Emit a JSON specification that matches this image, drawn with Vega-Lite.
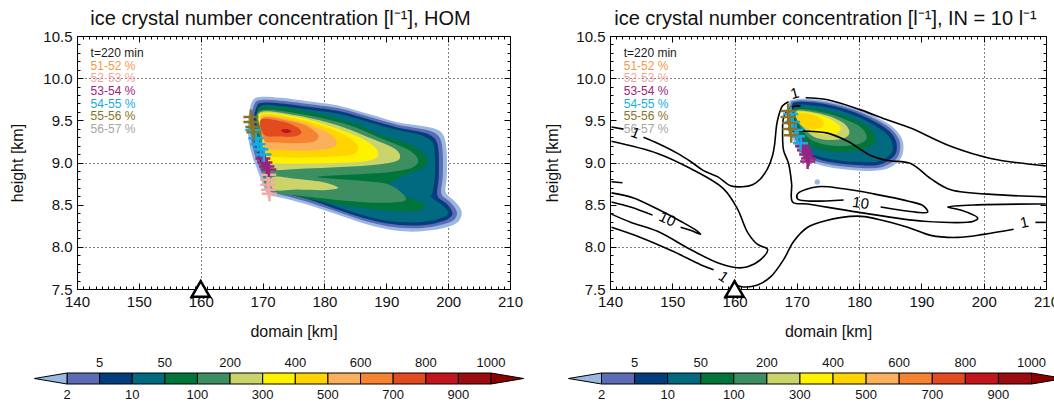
{
"$schema":"https://vega.github.io/schema/vega-lite/v6.json",
"background":"white",
"padding":{"left":9,"top":8,"right":0,"bottom":0},
"config":{
 "font":"Liberation Sans",
 "view":{"stroke":null},
 "axis":{"domain":false,"grid":false,"tickColor":"#000","tickWidth":1,"labelFontSize":15,"titleFontSize":16,"titleFontWeight":"normal","labelColor":"#111","titleColor":"#111","labelFlush":false,"labelOverlap":false,"zindex":1,"labelFont":"Liberation Sans","titleFont":"Liberation Sans"},
 "title":{"fontSize":20,"fontWeight":"normal","color":"#111","font":"Liberation Sans","frame":"group"},
 "text":{"font":"Liberation Sans"}
},
"datasets":{
 "lp":[
{"p":"L00","c":0,"i":0,"x":168.22,"y":9.708},{"p":"L00","c":0,"i":1,"x":169.46,"y":9.776},{"p":"L00","c":0,"i":2,"x":172.96,"y":9.768},{"p":"L00","c":0,"i":3,"x":178.34,"y":9.716},{"p":"L00","c":0,"i":4,"x":182.65,"y":9.668},{"p":"L00","c":0,"i":5,"x":187.5,"y":9.568},{"p":"L00","c":0,"i":6,"x":191.81,"y":9.476},{"p":"L00","c":0,"i":7,"x":195.57,"y":9.436},{"p":"L00","c":0,"i":8,"x":198.0,"y":9.396},{"p":"L00","c":0,"i":9,"x":199.34,"y":9.308},{"p":"L00","c":0,"i":10,"x":199.77,"y":9.108},{"p":"L00","c":0,"i":11,"x":199.77,"y":8.828},{"p":"L00","c":0,"i":12,"x":199.61,"y":8.648},{"p":"L00","c":0,"i":13,"x":200.96,"y":8.548},{"p":"L00","c":0,"i":14,"x":202.04,"y":8.448},{"p":"L00","c":0,"i":15,"x":202.14,"y":8.368},{"p":"L00","c":0,"i":16,"x":201.5,"y":8.288},{"p":"L00","c":0,"i":17,"x":199.88,"y":8.236},{"p":"L00","c":0,"i":18,"x":197.19,"y":8.196},{"p":"L00","c":0,"i":19,"x":193.96,"y":8.18},{"p":"L00","c":0,"i":20,"x":190.19,"y":8.208},{"p":"L00","c":0,"i":21,"x":186.42,"y":8.276},{"p":"L00","c":0,"i":22,"x":182.65,"y":8.368},{"p":"L00","c":0,"i":23,"x":178.34,"y":8.476},{"p":"L00","c":0,"i":24,"x":174.57,"y":8.556},{"p":"L00","c":0,"i":25,"x":171.88,"y":8.6},{"p":"L00","c":0,"i":26,"x":170.7,"y":8.636},{"p":"L00","c":0,"i":27,"x":170.0,"y":8.748},{"p":"L00","c":0,"i":28,"x":169.19,"y":8.908},{"p":"L00","c":0,"i":29,"x":168.22,"y":9.108},{"p":"L00","c":0,"i":30,"x":167.68,"y":9.308},{"p":"L00","c":0,"i":31,"x":167.68,"y":9.508},
{"p":"L01","c":1,"i":0,"x":168.65,"y":9.688},{"p":"L01","c":1,"i":1,"x":169.73,"y":9.74},{"p":"L01","c":1,"i":2,"x":172.96,"y":9.732},{"p":"L01","c":1,"i":3,"x":178.34,"y":9.684},{"p":"L01","c":1,"i":4,"x":182.65,"y":9.636},{"p":"L01","c":1,"i":5,"x":187.5,"y":9.536},{"p":"L01","c":1,"i":6,"x":191.81,"y":9.448},{"p":"L01","c":1,"i":7,"x":195.31,"y":9.404},{"p":"L01","c":1,"i":8,"x":197.46,"y":9.364},{"p":"L01","c":1,"i":9,"x":198.7,"y":9.284},{"p":"L01","c":1,"i":10,"x":199.13,"y":9.108},{"p":"L01","c":1,"i":11,"x":199.13,"y":8.828},{"p":"L01","c":1,"i":12,"x":198.91,"y":8.628},{"p":"L01","c":1,"i":13,"x":200.31,"y":8.532},{"p":"L01","c":1,"i":14,"x":201.28,"y":8.44},{"p":"L01","c":1,"i":15,"x":201.39,"y":8.372},{"p":"L01","c":1,"i":16,"x":200.85,"y":8.316},{"p":"L01","c":1,"i":17,"x":199.61,"y":8.276},{"p":"L01","c":1,"i":18,"x":197.19,"y":8.236},{"p":"L01","c":1,"i":19,"x":193.96,"y":8.22},{"p":"L01","c":1,"i":20,"x":190.19,"y":8.244},{"p":"L01","c":1,"i":21,"x":186.42,"y":8.308},{"p":"L01","c":1,"i":22,"x":182.65,"y":8.4},{"p":"L01","c":1,"i":23,"x":178.34,"y":8.508},{"p":"L01","c":1,"i":24,"x":174.57,"y":8.588},{"p":"L01","c":1,"i":25,"x":171.99,"y":8.636},{"p":"L01","c":1,"i":26,"x":171.07,"y":8.668},{"p":"L01","c":1,"i":27,"x":170.43,"y":8.768},{"p":"L01","c":1,"i":28,"x":169.62,"y":8.916},{"p":"L01","c":1,"i":29,"x":168.65,"y":9.116},{"p":"L01","c":1,"i":30,"x":168.11,"y":9.308},{"p":"L01","c":1,"i":31,"x":168.11,"y":9.508},
{"p":"L02","c":2,"i":0,"x":169.08,"y":9.668},{"p":"L02","c":2,"i":1,"x":170.0,"y":9.708},{"p":"L02","c":2,"i":2,"x":172.96,"y":9.7},{"p":"L02","c":2,"i":3,"x":178.34,"y":9.652},{"p":"L02","c":2,"i":4,"x":182.65,"y":9.604},{"p":"L02","c":2,"i":5,"x":187.5,"y":9.504},{"p":"L02","c":2,"i":6,"x":191.81,"y":9.416},{"p":"L02","c":2,"i":7,"x":195.04,"y":9.372},{"p":"L02","c":2,"i":8,"x":196.92,"y":9.332},{"p":"L02","c":2,"i":9,"x":198.05,"y":9.26},{"p":"L02","c":2,"i":10,"x":198.48,"y":9.108},{"p":"L02","c":2,"i":11,"x":198.48,"y":8.828},{"p":"L02","c":2,"i":12,"x":198.27,"y":8.608},{"p":"L02","c":2,"i":13,"x":199.67,"y":8.516},{"p":"L02","c":2,"i":14,"x":200.53,"y":8.436},{"p":"L02","c":2,"i":15,"x":200.64,"y":8.376},{"p":"L02","c":2,"i":16,"x":200.15,"y":8.34},{"p":"L02","c":2,"i":17,"x":199.34,"y":8.308},{"p":"L02","c":2,"i":18,"x":197.19,"y":8.268},{"p":"L02","c":2,"i":19,"x":193.96,"y":8.252},{"p":"L02","c":2,"i":20,"x":190.19,"y":8.276},{"p":"L02","c":2,"i":21,"x":186.42,"y":8.34},{"p":"L02","c":2,"i":22,"x":182.65,"y":8.428},{"p":"L02","c":2,"i":23,"x":178.34,"y":8.54},{"p":"L02","c":2,"i":24,"x":174.57,"y":8.62},{"p":"L02","c":2,"i":25,"x":172.15,"y":8.664},{"p":"L02","c":2,"i":26,"x":171.34,"y":8.696},{"p":"L02","c":2,"i":27,"x":170.8,"y":8.788},{"p":"L02","c":2,"i":28,"x":170.05,"y":8.928},{"p":"L02","c":2,"i":29,"x":169.08,"y":9.128},{"p":"L02","c":2,"i":30,"x":168.54,"y":9.308},{"p":"L02","c":2,"i":31,"x":168.54,"y":9.508},
{"p":"L03","c":3,"i":0,"x":169.51,"y":9.648},{"p":"L03","c":3,"i":1,"x":170.27,"y":9.68},{"p":"L03","c":3,"i":2,"x":172.96,"y":9.668},{"p":"L03","c":3,"i":3,"x":178.34,"y":9.62},{"p":"L03","c":3,"i":4,"x":182.65,"y":9.572},{"p":"L03","c":3,"i":5,"x":187.5,"y":9.472},{"p":"L03","c":3,"i":6,"x":191.81,"y":9.384},{"p":"L03","c":3,"i":7,"x":194.77,"y":9.34},{"p":"L03","c":3,"i":8,"x":196.38,"y":9.3},{"p":"L03","c":3,"i":9,"x":197.46,"y":9.236},{"p":"L03","c":3,"i":10,"x":197.84,"y":9.108},{"p":"L03","c":3,"i":11,"x":197.84,"y":8.828},{"p":"L03","c":3,"i":12,"x":197.46,"y":8.636},{"p":"L03","c":3,"i":13,"x":197.08,"y":8.596},{"p":"L03","c":3,"i":14,"x":198.81,"y":8.508},{"p":"L03","c":3,"i":15,"x":199.88,"y":8.428},{"p":"L03","c":3,"i":16,"x":199.88,"y":8.38},{"p":"L03","c":3,"i":17,"x":199.08,"y":8.348},{"p":"L03","c":3,"i":18,"x":197.19,"y":8.308},{"p":"L03","c":3,"i":19,"x":193.96,"y":8.288},{"p":"L03","c":3,"i":20,"x":190.19,"y":8.308},{"p":"L03","c":3,"i":21,"x":186.42,"y":8.372},{"p":"L03","c":3,"i":22,"x":182.65,"y":8.46},{"p":"L03","c":3,"i":23,"x":178.34,"y":8.572},{"p":"L03","c":3,"i":24,"x":174.57,"y":8.648},{"p":"L03","c":3,"i":25,"x":172.31,"y":8.692},{"p":"L03","c":3,"i":26,"x":171.61,"y":8.724},{"p":"L03","c":3,"i":27,"x":171.13,"y":8.808},{"p":"L03","c":3,"i":28,"x":170.48,"y":8.94},{"p":"L03","c":3,"i":29,"x":169.51,"y":9.14},{"p":"L03","c":3,"i":30,"x":168.97,"y":9.308},{"p":"L03","c":3,"i":31,"x":168.97,"y":9.508},
{"p":"L04","c":4,"i":0,"x":169.19,"y":9.628},{"p":"L04","c":4,"i":1,"x":170.27,"y":9.66},{"p":"L04","c":4,"i":2,"x":175.65,"y":9.628},{"p":"L04","c":4,"i":3,"x":183.73,"y":9.488},{"p":"L04","c":4,"i":4,"x":189.11,"y":9.328},{"p":"L04","c":4,"i":5,"x":193.96,"y":9.208},{"p":"L04","c":4,"i":6,"x":196.01,"y":9.1},{"p":"L04","c":4,"i":7,"x":196.76,"y":9.008},{"p":"L04","c":4,"i":8,"x":195.84,"y":8.928},{"p":"L04","c":4,"i":9,"x":193.96,"y":8.876},{"p":"L04","c":4,"i":10,"x":191.81,"y":8.808},{"p":"L04","c":4,"i":11,"x":190.19,"y":8.708},{"p":"L04","c":4,"i":12,"x":192.88,"y":8.608},{"p":"L04","c":4,"i":13,"x":195.57,"y":8.528},{"p":"L04","c":4,"i":14,"x":196.22,"y":8.468},{"p":"L04","c":4,"i":15,"x":193.96,"y":8.42},{"p":"L04","c":4,"i":16,"x":189.11,"y":8.436},{"p":"L04","c":4,"i":17,"x":183.73,"y":8.488},{"p":"L04","c":4,"i":18,"x":178.34,"y":8.556},{"p":"L04","c":4,"i":19,"x":174.03,"y":8.62},{"p":"L04","c":4,"i":20,"x":171.88,"y":8.66},{"p":"L04","c":4,"i":21,"x":171.07,"y":8.748},{"p":"L04","c":4,"i":22,"x":170.27,"y":8.948},{"p":"L04","c":4,"i":23,"x":169.46,"y":9.188},{"p":"L04","c":4,"i":24,"x":169.19,"y":9.428},
{"p":"L05","c":5,"i":0,"x":169.46,"y":9.608},{"p":"L05","c":5,"i":1,"x":175.65,"y":9.58},{"p":"L05","c":5,"i":2,"x":183.73,"y":9.448},{"p":"L05","c":5,"i":3,"x":189.11,"y":9.288},{"p":"L05","c":5,"i":4,"x":193.42,"y":9.156},{"p":"L05","c":5,"i":5,"x":195.14,"y":9.036},{"p":"L05","c":5,"i":6,"x":194.23,"y":8.94},{"p":"L05","c":5,"i":7,"x":190.73,"y":8.888},{"p":"L05","c":5,"i":8,"x":185.34,"y":8.86},{"p":"L05","c":5,"i":9,"x":178.88,"y":8.828},{"p":"L05","c":5,"i":10,"x":186.42,"y":8.78},{"p":"L05","c":5,"i":11,"x":190.73,"y":8.728},{"p":"L05","c":5,"i":12,"x":193.15,"y":8.556},{"p":"L05","c":5,"i":13,"x":188.57,"y":8.524},{"p":"L05","c":5,"i":14,"x":182.11,"y":8.556},{"p":"L05","c":5,"i":15,"x":175.65,"y":8.608},{"p":"L05","c":5,"i":16,"x":172.42,"y":8.636},{"p":"L05","c":5,"i":17,"x":170.53,"y":8.708},{"p":"L05","c":5,"i":18,"x":169.73,"y":9.028},{"p":"L05","c":5,"i":19,"x":169.46,"y":9.348},
{"p":"L06a","c":6,"i":0,"x":169.62,"y":9.596},{"p":"L06a","c":6,"i":1,"x":175.65,"y":9.556},{"p":"L06a","c":6,"i":2,"x":182.65,"y":9.428},{"p":"L06a","c":6,"i":3,"x":187.5,"y":9.288},{"p":"L06a","c":6,"i":4,"x":191.27,"y":9.168},{"p":"L06a","c":6,"i":5,"x":192.24,"y":9.068},{"p":"L06a","c":6,"i":6,"x":191.27,"y":9.008},{"p":"L06a","c":6,"i":7,"x":187.5,"y":8.968},{"p":"L06a","c":6,"i":8,"x":181.04,"y":8.94},{"p":"L06a","c":6,"i":9,"x":175.65,"y":8.924},{"p":"L06a","c":6,"i":10,"x":171.34,"y":8.916},{"p":"L06a","c":6,"i":11,"x":170.27,"y":9.028},{"p":"L06a","c":6,"i":12,"x":169.83,"y":9.348},
{"p":"L06b","c":6,"i":0,"x":171.61,"y":8.828},{"p":"L06b","c":6,"i":1,"x":175.65,"y":8.804},{"p":"L06b","c":6,"i":2,"x":179.96,"y":8.764},{"p":"L06b","c":6,"i":3,"x":182.22,"y":8.7},{"p":"L06b","c":6,"i":4,"x":179.96,"y":8.672},{"p":"L06b","c":6,"i":5,"x":175.65,"y":8.68},{"p":"L06b","c":6,"i":6,"x":171.88,"y":8.676},
{"p":"L07","c":7,"i":0,"x":169.73,"y":9.58},{"p":"L07","c":7,"i":1,"x":175.65,"y":9.54},{"p":"L07","c":7,"i":2,"x":181.04,"y":9.428},{"p":"L07","c":7,"i":3,"x":185.34,"y":9.308},{"p":"L07","c":7,"i":4,"x":188.04,"y":9.188},{"p":"L07","c":7,"i":5,"x":188.68,"y":9.088},{"p":"L07","c":7,"i":6,"x":187.5,"y":9.028},{"p":"L07","c":7,"i":7,"x":183.73,"y":9.0},{"p":"L07","c":7,"i":8,"x":178.34,"y":8.988},{"p":"L07","c":7,"i":9,"x":172.96,"y":8.988},{"p":"L07","c":7,"i":10,"x":170.53,"y":9.028},{"p":"L07","c":7,"i":11,"x":170.0,"y":9.348},
{"p":"L08","c":8,"i":0,"x":170.0,"y":9.568},{"p":"L08","c":8,"i":1,"x":175.65,"y":9.516},{"p":"L08","c":8,"i":2,"x":179.96,"y":9.428},{"p":"L08","c":8,"i":3,"x":183.19,"y":9.328},{"p":"L08","c":8,"i":4,"x":185.07,"y":9.228},{"p":"L08","c":8,"i":5,"x":185.45,"y":9.148},{"p":"L08","c":8,"i":6,"x":184.27,"y":9.088},{"p":"L08","c":8,"i":7,"x":181.04,"y":9.068},{"p":"L08","c":8,"i":8,"x":175.65,"y":9.06},{"p":"L08","c":8,"i":9,"x":171.88,"y":9.068},{"p":"L08","c":8,"i":10,"x":170.53,"y":9.108},{"p":"L08","c":8,"i":11,"x":170.16,"y":9.348},
{"p":"L09","c":9,"i":0,"x":170.0,"y":9.548},{"p":"L09","c":9,"i":1,"x":175.65,"y":9.488},{"p":"L09","c":9,"i":2,"x":178.88,"y":9.408},{"p":"L09","c":9,"i":3,"x":181.04,"y":9.328},{"p":"L09","c":9,"i":4,"x":182.0,"y":9.236},{"p":"L09","c":9,"i":5,"x":181.04,"y":9.168},{"p":"L09","c":9,"i":6,"x":177.8,"y":9.14},{"p":"L09","c":9,"i":7,"x":173.5,"y":9.148},{"p":"L09","c":9,"i":8,"x":170.8,"y":9.168},{"p":"L09","c":9,"i":9,"x":170.1,"y":9.308},
{"p":"L10","c":10,"i":0,"x":170.0,"y":9.528},{"p":"L10","c":10,"i":1,"x":174.57,"y":9.488},{"p":"L10","c":10,"i":2,"x":177.27,"y":9.428},{"p":"L10","c":10,"i":3,"x":178.99,"y":9.328},{"p":"L10","c":10,"i":4,"x":178.34,"y":9.248},{"p":"L10","c":10,"i":5,"x":175.65,"y":9.228},{"p":"L10","c":10,"i":6,"x":172.42,"y":9.236},{"p":"L10","c":10,"i":7,"x":170.27,"y":9.268},
{"p":"L11","c":11,"i":0,"x":169.73,"y":9.508},{"p":"L11","c":11,"i":1,"x":172.96,"y":9.488},{"p":"L11","c":11,"i":2,"x":175.38,"y":9.428},{"p":"L11","c":11,"i":3,"x":176.3,"y":9.356},{"p":"L11","c":11,"i":4,"x":175.11,"y":9.308},{"p":"L11","c":11,"i":5,"x":172.42,"y":9.308},{"p":"L11","c":11,"i":6,"x":170.27,"y":9.328},
{"p":"L12","c":12,"i":0,"x":172.96,"y":9.38},{"p":"L12","c":12,"i":1,"x":173.77,"y":9.396},{"p":"L12","c":12,"i":2,"x":174.68,"y":9.372},{"p":"L12","c":12,"i":3,"x":173.77,"y":9.348}
 ],
 "rp":[
{"p":"R0","c":0,"i":0,"x":168.73,"y":9.708},{"p":"R0","c":0,"i":1,"x":169.54,"y":9.748},{"p":"R0","c":0,"i":2,"x":171.68,"y":9.756},{"p":"R0","c":0,"i":3,"x":174.89,"y":9.728},{"p":"R0","c":0,"i":4,"x":178.1,"y":9.668},{"p":"R0","c":0,"i":5,"x":181.32,"y":9.588},{"p":"R0","c":0,"i":6,"x":183.99,"y":9.488},{"p":"R0","c":0,"i":7,"x":185.87,"y":9.388},{"p":"R0","c":0,"i":8,"x":186.94,"y":9.268},{"p":"R0","c":0,"i":9,"x":187.1,"y":9.148},{"p":"R0","c":0,"i":10,"x":186.67,"y":9.048},{"p":"R0","c":0,"i":11,"x":185.6,"y":8.968},{"p":"R0","c":0,"i":12,"x":183.99,"y":8.916},{"p":"R0","c":0,"i":13,"x":181.85,"y":8.9},{"p":"R0","c":0,"i":14,"x":179.17,"y":8.908},{"p":"R0","c":0,"i":15,"x":176.5,"y":8.928},{"p":"R0","c":0,"i":16,"x":173.82,"y":8.968},{"p":"R0","c":0,"i":17,"x":172.21,"y":9.008},{"p":"R0","c":0,"i":18,"x":171.14,"y":9.048},{"p":"R0","c":0,"i":19,"x":170.07,"y":9.148},{"p":"R0","c":0,"i":20,"x":169.27,"y":9.308},{"p":"R0","c":0,"i":21,"x":168.73,"y":9.508},
{"p":"R1","c":1,"i":0,"x":169.0,"y":9.696},{"p":"R1","c":1,"i":1,"x":169.8,"y":9.732},{"p":"R1","c":1,"i":2,"x":171.68,"y":9.736},{"p":"R1","c":1,"i":3,"x":174.89,"y":9.708},{"p":"R1","c":1,"i":4,"x":178.1,"y":9.648},{"p":"R1","c":1,"i":5,"x":181.21,"y":9.564},{"p":"R1","c":1,"i":6,"x":183.73,"y":9.468},{"p":"R1","c":1,"i":7,"x":185.49,"y":9.372},{"p":"R1","c":1,"i":8,"x":186.46,"y":9.26},{"p":"R1","c":1,"i":9,"x":186.56,"y":9.148},{"p":"R1","c":1,"i":10,"x":186.14,"y":9.06},{"p":"R1","c":1,"i":11,"x":185.17,"y":8.996},{"p":"R1","c":1,"i":12,"x":183.73,"y":8.948},{"p":"R1","c":1,"i":13,"x":181.85,"y":8.932},{"p":"R1","c":1,"i":14,"x":179.17,"y":8.94},{"p":"R1","c":1,"i":15,"x":176.5,"y":8.96},{"p":"R1","c":1,"i":16,"x":173.93,"y":8.996},{"p":"R1","c":1,"i":17,"x":172.37,"y":9.036},{"p":"R1","c":1,"i":18,"x":171.41,"y":9.076},{"p":"R1","c":1,"i":19,"x":170.39,"y":9.168},{"p":"R1","c":1,"i":20,"x":169.59,"y":9.316},{"p":"R1","c":1,"i":21,"x":169.11,"y":9.508},
{"p":"R2","c":2,"i":0,"x":169.27,"y":9.684},{"p":"R2","c":2,"i":1,"x":170.07,"y":9.716},{"p":"R2","c":2,"i":2,"x":171.68,"y":9.716},{"p":"R2","c":2,"i":3,"x":174.89,"y":9.688},{"p":"R2","c":2,"i":4,"x":178.0,"y":9.628},{"p":"R2","c":2,"i":5,"x":181.05,"y":9.54},{"p":"R2","c":2,"i":6,"x":183.46,"y":9.444},{"p":"R2","c":2,"i":7,"x":185.06,"y":9.356},{"p":"R2","c":2,"i":8,"x":185.92,"y":9.252},{"p":"R2","c":2,"i":9,"x":186.03,"y":9.148},{"p":"R2","c":2,"i":10,"x":185.6,"y":9.076},{"p":"R2","c":2,"i":11,"x":184.74,"y":9.024},{"p":"R2","c":2,"i":12,"x":183.46,"y":8.98},{"p":"R2","c":2,"i":13,"x":181.85,"y":8.964},{"p":"R2","c":2,"i":14,"x":179.17,"y":8.972},{"p":"R2","c":2,"i":15,"x":176.5,"y":8.992},{"p":"R2","c":2,"i":16,"x":174.09,"y":9.024},{"p":"R2","c":2,"i":17,"x":172.53,"y":9.064},{"p":"R2","c":2,"i":18,"x":171.68,"y":9.1},{"p":"R2","c":2,"i":19,"x":170.71,"y":9.188},{"p":"R2","c":2,"i":20,"x":169.91,"y":9.324},{"p":"R2","c":2,"i":21,"x":169.43,"y":9.508},
{"p":"R3","c":3,"i":0,"x":169.54,"y":9.66},{"p":"R3","c":3,"i":1,"x":170.34,"y":9.684},{"p":"R3","c":3,"i":2,"x":171.68,"y":9.684},{"p":"R3","c":3,"i":3,"x":174.89,"y":9.652},{"p":"R3","c":3,"i":4,"x":177.84,"y":9.596},{"p":"R3","c":3,"i":5,"x":180.78,"y":9.508},{"p":"R3","c":3,"i":6,"x":183.03,"y":9.416},{"p":"R3","c":3,"i":7,"x":184.53,"y":9.332},{"p":"R3","c":3,"i":8,"x":185.28,"y":9.236},{"p":"R3","c":3,"i":9,"x":185.39,"y":9.148},{"p":"R3","c":3,"i":10,"x":184.96,"y":9.092},{"p":"R3","c":3,"i":11,"x":184.21,"y":9.048},{"p":"R3","c":3,"i":12,"x":183.19,"y":9.016},{"p":"R3","c":3,"i":13,"x":181.85,"y":9.004},{"p":"R3","c":3,"i":14,"x":179.17,"y":9.008},{"p":"R3","c":3,"i":15,"x":176.5,"y":9.028},{"p":"R3","c":3,"i":16,"x":174.25,"y":9.056},{"p":"R3","c":3,"i":17,"x":172.75,"y":9.092},{"p":"R3","c":3,"i":18,"x":171.94,"y":9.128},{"p":"R3","c":3,"i":19,"x":171.03,"y":9.208},{"p":"R3","c":3,"i":20,"x":170.18,"y":9.332},{"p":"R3","c":3,"i":21,"x":169.7,"y":9.508},
{"p":"R4","c":4,"i":0,"x":169.64,"y":9.636},{"p":"R4","c":4,"i":1,"x":171.68,"y":9.648},{"p":"R4","c":4,"i":2,"x":174.89,"y":9.608},{"p":"R4","c":4,"i":3,"x":177.57,"y":9.556},{"p":"R4","c":4,"i":4,"x":180.25,"y":9.476},{"p":"R4","c":4,"i":5,"x":181.85,"y":9.396},{"p":"R4","c":4,"i":6,"x":182.65,"y":9.308},{"p":"R4","c":4,"i":7,"x":182.49,"y":9.228},{"p":"R4","c":4,"i":8,"x":181.58,"y":9.18},{"p":"R4","c":4,"i":9,"x":180.25,"y":9.148},{"p":"R4","c":4,"i":10,"x":178.1,"y":9.128},{"p":"R4","c":4,"i":11,"x":175.96,"y":9.128},{"p":"R4","c":4,"i":12,"x":174.09,"y":9.148},{"p":"R4","c":4,"i":13,"x":172.75,"y":9.18},{"p":"R4","c":4,"i":14,"x":171.68,"y":9.228},{"p":"R4","c":4,"i":15,"x":170.61,"y":9.348},{"p":"R4","c":4,"i":16,"x":169.8,"y":9.508},
{"p":"R5","c":5,"i":0,"x":169.75,"y":9.62},{"p":"R5","c":5,"i":1,"x":171.68,"y":9.628},{"p":"R5","c":5,"i":2,"x":174.89,"y":9.58},{"p":"R5","c":5,"i":3,"x":177.57,"y":9.516},{"p":"R5","c":5,"i":4,"x":179.71,"y":9.444},{"p":"R5","c":5,"i":5,"x":180.89,"y":9.368},{"p":"R5","c":5,"i":6,"x":181.21,"y":9.288},{"p":"R5","c":5,"i":7,"x":180.51,"y":9.236},{"p":"R5","c":5,"i":8,"x":179.17,"y":9.208},{"p":"R5","c":5,"i":9,"x":177.03,"y":9.196},{"p":"R5","c":5,"i":10,"x":174.89,"y":9.208},{"p":"R5","c":5,"i":11,"x":173.28,"y":9.236},{"p":"R5","c":5,"i":12,"x":171.94,"y":9.288},{"p":"R5","c":5,"i":13,"x":170.87,"y":9.388},{"p":"R5","c":5,"i":14,"x":169.96,"y":9.508},
{"p":"R6","c":6,"i":0,"x":169.86,"y":9.604},{"p":"R6","c":6,"i":1,"x":171.68,"y":9.608},{"p":"R6","c":6,"i":2,"x":174.89,"y":9.556},{"p":"R6","c":6,"i":3,"x":177.3,"y":9.476},{"p":"R6","c":6,"i":4,"x":178.37,"y":9.388},{"p":"R6","c":6,"i":5,"x":178.21,"y":9.316},{"p":"R6","c":6,"i":6,"x":177.03,"y":9.276},{"p":"R6","c":6,"i":7,"x":174.89,"y":9.268},{"p":"R6","c":6,"i":8,"x":173.28,"y":9.288},{"p":"R6","c":6,"i":9,"x":172.21,"y":9.328},{"p":"R6","c":6,"i":10,"x":171.14,"y":9.408},{"p":"R6","c":6,"i":11,"x":170.07,"y":9.508},
{"p":"R7","c":7,"i":0,"x":169.96,"y":9.596},{"p":"R7","c":7,"i":1,"x":171.68,"y":9.596},{"p":"R7","c":7,"i":2,"x":174.35,"y":9.548},{"p":"R7","c":7,"i":3,"x":176.23,"y":9.476},{"p":"R7","c":7,"i":4,"x":177.03,"y":9.408},{"p":"R7","c":7,"i":5,"x":176.5,"y":9.348},{"p":"R7","c":7,"i":6,"x":174.89,"y":9.328},{"p":"R7","c":7,"i":7,"x":173.28,"y":9.348},{"p":"R7","c":7,"i":8,"x":172.21,"y":9.388},{"p":"R7","c":7,"i":9,"x":171.14,"y":9.448},{"p":"R7","c":7,"i":10,"x":170.18,"y":9.528},
{"p":"R8","c":8,"i":0,"x":169.96,"y":9.58},{"p":"R8","c":8,"i":1,"x":171.68,"y":9.58},{"p":"R8","c":8,"i":2,"x":173.28,"y":9.548},{"p":"R8","c":8,"i":3,"x":174.25,"y":9.488},{"p":"R8","c":8,"i":4,"x":174.09,"y":9.428},{"p":"R8","c":8,"i":5,"x":173.02,"y":9.396},{"p":"R8","c":8,"i":6,"x":171.68,"y":9.408},{"p":"R8","c":8,"i":7,"x":170.61,"y":9.448},{"p":"R8","c":8,"i":8,"x":170.07,"y":9.508}
 ],
 "rl":[
{"p":"c1a","i":0,"x":140.24,"y":9.42},{"p":"c1a","i":1,"x":142.17,"y":9.396},
{"p":"c1b","i":0,"x":145.38,"y":9.3},{"p":"c1b","i":1,"x":147.63,"y":9.228},{"p":"c1b","i":2,"x":150.84,"y":9.108},{"p":"c1b","i":3,"x":152.93,"y":9.012},{"p":"c1b","i":4,"x":155.02,"y":8.904},{"p":"c1b","i":5,"x":157.27,"y":8.832},{"p":"c1b","i":6,"x":159.36,"y":8.724},{"p":"c1b","i":7,"x":161.29,"y":8.712},{"p":"c1b","i":8,"x":162.89,"y":8.736},{"p":"c1b","i":9,"x":164.18,"y":8.808},{"p":"c1b","i":10,"x":165.3,"y":8.928},{"p":"c1b","i":11,"x":166.1,"y":9.084},{"p":"c1b","i":12,"x":166.43,"y":9.216},{"p":"c1b","i":13,"x":166.75,"y":9.444},{"p":"c1b","i":14,"x":167.07,"y":9.552},{"p":"c1b","i":15,"x":167.71,"y":9.672},{"p":"c1b","i":16,"x":168.67,"y":9.72},
{"p":"c1c","i":0,"x":171.41,"y":9.768},{"p":"c1c","i":1,"x":174.94,"y":9.744},{"p":"c1c","i":2,"x":180.24,"y":9.624},{"p":"c1c","i":3,"x":184.58,"y":9.504},{"p":"c1c","i":4,"x":188.27,"y":9.408},{"p":"c1c","i":5,"x":194.7,"y":9.192},{"p":"c1c","i":6,"x":201.12,"y":9.048},{"p":"c1c","i":7,"x":209.96,"y":8.96},
{"p":"c2","i":0,"x":140.24,"y":9.252},{"p":"c2","i":1,"x":147.63,"y":9.108},{"p":"c2","i":2,"x":152.93,"y":8.928},{"p":"c2","i":3,"x":158.23,"y":8.688},{"p":"c2","i":4,"x":160.48,"y":8.448},{"p":"c2","i":5,"x":162.09,"y":8.172},{"p":"c2","i":6,"x":163.7,"y":8.028},{"p":"c2","i":7,"x":165.3,"y":7.968},{"p":"c2","i":8,"x":164.18,"y":7.848},{"p":"c2","i":9,"x":162.09,"y":7.764},{"p":"c2","i":10,"x":160.48,"y":7.752},{"p":"c2","i":11,"x":157.27,"y":7.812},{"p":"c2","i":12,"x":152.93,"y":7.968},{"p":"c2","i":13,"x":147.63,"y":8.184},{"p":"c2","i":14,"x":143.29,"y":8.292},{"p":"c2","i":15,"x":140.24,"y":8.388},
{"p":"c3a","i":0,"x":140.24,"y":8.232},{"p":"c3a","i":1,"x":144.9,"y":8.112},{"p":"c3a","i":2,"x":150.2,"y":7.944},{"p":"c3a","i":3,"x":154.54,"y":7.788},{"p":"c3a","i":4,"x":156.63,"y":7.728},
{"p":"c3b","i":0,"x":159.84,"y":7.56},{"p":"c3b","i":1,"x":161.45,"y":7.524},{"p":"c3b","i":2,"x":163.7,"y":7.548},{"p":"c3b","i":3,"x":165.78,"y":7.644},{"p":"c3b","i":4,"x":167.87,"y":7.848},{"p":"c3b","i":5,"x":169.48,"y":8.064},{"p":"c3b","i":6,"x":171.73,"y":8.232},{"p":"c3b","i":7,"x":174.3,"y":8.304},{"p":"c3b","i":8,"x":179.76,"y":8.364},{"p":"c3b","i":9,"x":182.97,"y":8.328},{"p":"c3b","i":10,"x":187.79,"y":8.232},{"p":"c3b","i":11,"x":191.49,"y":8.136},{"p":"c3b","i":12,"x":195.82,"y":8.112},{"p":"c3b","i":13,"x":200.0,"y":8.148},{"p":"c3b","i":14,"x":204.8,"y":8.208},
{"p":"c3c","i":0,"x":208.3,"y":8.29},{"p":"c3c","i":1,"x":209.96,"y":8.29},
{"p":"c4","i":0,"x":170.6,"y":9.672},{"p":"c4","i":1,"x":168.84,"y":9.648},{"p":"c4","i":2,"x":167.87,"y":9.528},{"p":"c4","i":3,"x":167.71,"y":9.348},{"p":"c4","i":4,"x":167.87,"y":9.144},{"p":"c4","i":5,"x":168.67,"y":8.988},{"p":"c4","i":6,"x":169.16,"y":8.748},{"p":"c4","i":7,"x":169.32,"y":8.532},{"p":"c4","i":8,"x":171.73,"y":8.508},{"p":"c4","i":9,"x":179.76,"y":8.412},{"p":"c4","i":10,"x":190.36,"y":8.304},{"p":"c4","i":11,"x":198.39,"y":8.304},{"p":"c4","i":12,"x":199.04,"y":8.34},{"p":"c4","i":13,"x":196.3,"y":8.436},{"p":"c4","i":14,"x":194.22,"y":8.472},{"p":"c4","i":15,"x":198.39,"y":8.496},{"p":"c4","i":16,"x":209.16,"y":8.508},{"p":"c4","i":17,"x":209.96,"y":8.508},
{"p":"c5","i":0,"x":177.51,"y":8.556},{"p":"c5","i":1,"x":171.73,"y":8.544},{"p":"c5","i":2,"x":170.12,"y":8.568},{"p":"c5","i":3,"x":170.12,"y":8.628},{"p":"c5","i":4,"x":173.33,"y":8.712},{"p":"c5","i":5,"x":177.51,"y":8.688},{"p":"c5","i":6,"x":182.33,"y":8.628},{"p":"c5","i":7,"x":187.79,"y":8.544},{"p":"c5","i":8,"x":190.36,"y":8.484},{"p":"c5","i":9,"x":191.0,"y":8.412},{"p":"c5","i":10,"x":189.08,"y":8.412},{"p":"c5","i":11,"x":183.45,"y":8.472},
{"p":"c6","i":0,"x":169.0,"y":9.372},{"p":"c6","i":1,"x":171.08,"y":9.372},{"p":"c6","i":2,"x":174.94,"y":9.348},{"p":"c6","i":3,"x":178.15,"y":9.252},{"p":"c6","i":4,"x":181.85,"y":9.084},{"p":"c6","i":5,"x":184.58,"y":9.024},{"p":"c6","i":6,"x":188.27,"y":8.988},{"p":"c6","i":7,"x":191.49,"y":8.808},{"p":"c6","i":8,"x":194.7,"y":8.676},{"p":"c6","i":9,"x":202.73,"y":8.616},{"p":"c6","i":10,"x":209.96,"y":8.592},
{"p":"t10a","i":0,"x":140.24,"y":8.64},{"p":"t10a","i":1,"x":143.78,"y":8.58},{"p":"t10a","i":2,"x":147.63,"y":8.448},{"p":"t10a","i":3,"x":151.33,"y":8.304},{"p":"t10a","i":4,"x":154.06,"y":8.184},{"p":"t10a","i":5,"x":154.54,"y":8.148},{"p":"t10a","i":6,"x":152.93,"y":8.196},{"p":"t10a","i":7,"x":151.33,"y":8.232},
{"p":"t10b","i":0,"x":146.83,"y":8.376},{"p":"t10b","i":1,"x":143.29,"y":8.472},{"p":"t10b","i":2,"x":140.24,"y":8.532},
{"p":"stub","i":0,"x":140.24,"y":8.772},{"p":"stub","i":1,"x":142.0,"y":8.76}
 ],
 "lx":[
{"s":"52-53 %","x":171.0,"y":8.856},{"s":"52-53 %","x":170.85,"y":8.796},{"s":"52-53 %","x":170.85,"y":8.736},{"s":"52-53 %","x":171.0,"y":8.676},{"s":"52-53 %","x":171.1,"y":8.628},
{"s":"53-54 %","x":170.05,"y":9.048},{"s":"53-54 %","x":170.37,"y":9.0},{"s":"53-54 %","x":170.69,"y":8.952},{"s":"53-54 %","x":171.02,"y":8.916},
{"s":"54-55 %","x":168.43,"y":9.384},{"s":"54-55 %","x":168.92,"y":9.288},{"s":"54-55 %","x":169.24,"y":9.216},{"s":"54-55 %","x":169.73,"y":9.156},{"s":"54-55 %","x":170.21,"y":9.096},
{"s":"55-56 %","x":168.11,"y":9.54},{"s":"55-56 %","x":168.11,"y":9.48},{"s":"55-56 %","x":168.43,"y":9.42},{"s":"55-56 %","x":168.59,"y":9.36}
 ],
 "rx":[
{"s":"53-54 %","x":170.92,"y":9.192},{"s":"53-54 %","x":171.24,"y":9.144},{"s":"53-54 %","x":171.57,"y":9.096},{"s":"53-54 %","x":171.89,"y":9.048},{"s":"53-54 %","x":171.73,"y":9.012},
{"s":"54-55 %","x":169.0,"y":9.576},{"s":"54-55 %","x":169.32,"y":9.48},{"s":"54-55 %","x":169.8,"y":9.384},{"s":"54-55 %","x":170.12,"y":9.312},{"s":"54-55 %","x":170.6,"y":9.228},
{"s":"55-56 %","x":168.6,"y":9.612},{"s":"55-56 %","x":168.6,"y":9.54},{"s":"55-56 %","x":168.8,"y":9.468},{"s":"55-56 %","x":168.9,"y":9.396},{"s":"55-56 %","x":169.1,"y":9.324}
 ],
 "lg":[
{"s":"t=220 min","x":142.2,"y":10.296},{"s":"51-52 %","x":142.2,"y":10.147},{"s":"52-53 %","x":142.2,"y":9.997},{"s":"53-54 %","x":142.2,"y":9.848},{"s":"54-55 %","x":142.2,"y":9.698},{"s":"55-56 %","x":142.2,"y":9.549},{"s":"56-57 %","x":142.2,"y":9.399}
 ],
 "mk":[{"x":160,"y":7.5}],
 "cb":[{"c":1,"a":0,"b":1},{"c":2,"a":1,"b":2},{"c":3,"a":2,"b":3},{"c":4,"a":3,"b":4},{"c":5,"a":4,"b":5},{"c":6,"a":5,"b":6},{"c":7,"a":6,"b":7},{"c":8,"a":7,"b":8},{"c":9,"a":8,"b":9},{"c":10,"a":9,"b":10},{"c":11,"a":10,"b":11},{"c":12,"a":11,"b":12},{"c":13,"a":12,"b":13}],
 "ct":[{"c":0,"i":0,"x":0,"y":1},{"c":0,"i":1,"x":-1,"y":0.5},{"c":0,"i":2,"x":0,"y":0},{"c":14,"i":0,"x":13,"y":1},{"c":14,"i":1,"x":14,"y":0.5},{"c":14,"i":2,"x":13,"y":0}],
 "cl":[{"v":"5","x":1,"y":1.9},{"v":"50","x":3,"y":1.9},{"v":"200","x":5,"y":1.9},{"v":"400","x":7,"y":1.9},{"v":"600","x":9,"y":1.9},{"v":"800","x":11,"y":1.9},{"v":"1000","x":13,"y":1.9},{"v":"2","x":0,"y":-1.0},{"v":"10","x":2,"y":-1.0},{"v":"100","x":4,"y":-1.0},{"v":"300","x":6,"y":-1.0},{"v":"500","x":8,"y":-1.0},{"v":"700","x":10,"y":-1.0},{"v":"900","x":12,"y":-1.0}]
},
"columns":2,
"spacing":{"row":84,"column":100},
"bounds":"flush",
"concat":[
 {"width":433,"height":253,
  "view":{"stroke":"#000","strokeWidth":1},
  "title":{"text":"ice crystal number concentration [l⁻¹], HOM","dx":-13,"offset":0},
  "resolve":{"scale":{"color":"independent"},"axis":{"x":"independent","y":"independent"}},
  "layer":[
   {"data":{"name":"lp"},"transform":[{"filter":"datum.c <= 3"}],
    "mark":{"type":"line","filled":true,"strokeWidth":0,"interpolate":"cardinal-closed"},
    "encoding":{
     "x":{"field":"x","type":"quantitative","scale":{"domain":[140,210],"nice":false,"zero":false},"axis":{"orient":"bottom","title":"domain [km]","values":[140,150,160,170,180,190,200,210],"ticks":false,"labelPadding":5,"titlePadding":14}},
     "y":{"field":"y","type":"quantitative","scale":{"domain":[7.5,10.5],"nice":false,"zero":false},"axis":{"orient":"left","title":"height [km]","values":[7.5,8,8.5,9,9.5,10,10.5],"format":".1f","ticks":false,"labelPadding":5,"titlePadding":17}},
     "color":{"field":"c","type":"ordinal","scale":{"domain":[0,1,2,3,4,5,6,7,8,9,10,11,12,13,14],"range":["#9bb8e2","#5d6bb4","#033d7c","#016a80","#00743a","#3d8f62","#cad46b","#fff200","#ffd400","#fbb05c","#f58332","#e14b1f","#c1161c","#9c0b10","#8c0000"]},"legend":null},
     "detail":{"field":"p"},
     "order":{"field":"i","type":"quantitative"}}},
   {"data":{"name":"lp"},"transform":[{"filter":"datum.c >= 4 && datum.c <= 7"}],
    "mark":{"type":"line","filled":true,"strokeWidth":0,"interpolate":"cardinal-closed"},
    "encoding":{
     "x":{"field":"x","type":"quantitative","scale":{"domain":[140,210],"nice":false,"zero":false},"axis":{"orient":"bottom","title":null,"labels":false,"values":[140,150,160,170,180,190,200,210],"tickSize":-6}},
     "y":{"field":"y","type":"quantitative","scale":{"domain":[7.5,10.5],"nice":false,"zero":false},"axis":{"orient":"left","title":null,"labels":false,"values":[7.5,8,8.5,9,9.5,10,10.5],"tickSize":-6}},
     "color":{"field":"c","type":"ordinal","scale":{"domain":[0,1,2,3,4,5,6,7,8,9,10,11,12,13,14],"range":["#9bb8e2","#5d6bb4","#033d7c","#016a80","#00743a","#3d8f62","#cad46b","#fff200","#ffd400","#fbb05c","#f58332","#e14b1f","#c1161c","#9c0b10","#8c0000"]},"legend":null},
     "detail":{"field":"p"},
     "order":{"field":"i","type":"quantitative"}}},
   {"data":{"name":"lp"},"transform":[{"filter":"datum.c >= 8"}],
    "mark":{"type":"line","filled":true,"strokeWidth":0,"interpolate":"cardinal-closed"},
    "encoding":{
     "x":{"field":"x","type":"quantitative","scale":{"domain":[140,210],"nice":false,"zero":false},"axis":{"orient":"bottom","title":null,"labels":false,"values":[140,141,142,143,144,145,146,147,148,149,150,151,152,153,154,155,156,157,158,159,160,161,162,163,164,165,166,167,168,169,170,171,172,173,174,175,176,177,178,179,180,181,182,183,184,185,186,187,188,189,190,191,192,193,194,195,196,197,198,199,200,201,202,203,204,205,206,207,208,209,210],"tickSize":-3}},
     "y":{"field":"y","type":"quantitative","scale":{"domain":[7.5,10.5],"nice":false,"zero":false},"axis":{"orient":"left","title":null,"labels":false,"values":[7.5,7.6,7.7,7.8,7.9,8,8.1,8.2,8.3,8.4,8.5,8.6,8.7,8.8,8.9,9,9.1,9.2,9.3,9.4,9.5,9.6,9.7,9.8,9.9,10,10.1,10.2,10.3,10.4,10.5],"tickSize":-3}},
     "color":{"field":"c","type":"ordinal","scale":{"domain":[0,1,2,3,4,5,6,7,8,9,10,11,12,13,14],"range":["#9bb8e2","#5d6bb4","#033d7c","#016a80","#00743a","#3d8f62","#cad46b","#fff200","#ffd400","#fbb05c","#f58332","#e14b1f","#c1161c","#9c0b10","#8c0000"]},"legend":null},
     "detail":{"field":"p"},
     "order":{"field":"i","type":"quantitative"}}},
   {"data":{"name":"lx"},
    "mark":{"type":"point","shape":"M-1,0L1,0M0,-1L0,1","filled":false,"size":225,"strokeWidth":2.5,"opacity":1},
    "encoding":{
     "x":{"field":"x","type":"quantitative","scale":{"domain":[140,210],"nice":false,"zero":false},"axis":{"orient":"top","title":null,"labels":false,"values":[140,150,160,170,180,190,200,210],"tickSize":-6}},
     "y":{"field":"y","type":"quantitative","scale":{"domain":[7.5,10.5],"nice":false,"zero":false},"axis":{"orient":"right","title":null,"labels":false,"values":[7.5,8,8.5,9,9.5,10,10.5],"tickSize":-6}},
     "color":{"field":"s","type":"nominal","scale":{"domain":["t=220 min","51-52 %","52-53 %","53-54 %","54-55 %","55-56 %","56-57 %"],"range":["#1a1a1a","#f7983f","#f4a8a6","#9b2380","#16ace3","#8a7424","#a6a6a6"]},"legend":null}}},
   {"data":{"name":"lg"},
    "mark":{"type":"text","align":"left","baseline":"middle","fontSize":12},
    "encoding":{
     "x":{"field":"x","type":"quantitative","scale":{"domain":[140,210],"nice":false,"zero":false},"axis":{"orient":"top","title":null,"labels":false,"values":[140,141,142,143,144,145,146,147,148,149,150,151,152,153,154,155,156,157,158,159,160,161,162,163,164,165,166,167,168,169,170,171,172,173,174,175,176,177,178,179,180,181,182,183,184,185,186,187,188,189,190,191,192,193,194,195,196,197,198,199,200,201,202,203,204,205,206,207,208,209,210],"tickSize":-3}},
     "y":{"field":"y","type":"quantitative","scale":{"domain":[7.5,10.5],"nice":false,"zero":false},"axis":{"orient":"right","title":null,"labels":false,"values":[7.5,7.6,7.7,7.8,7.9,8,8.1,8.2,8.3,8.4,8.5,8.6,8.7,8.8,8.9,9,9.1,9.2,9.3,9.4,9.5,9.6,9.7,9.8,9.9,10,10.1,10.2,10.3,10.4,10.5],"tickSize":-3}},
     "text":{"field":"s"},
     "color":{"field":"s","type":"nominal","scale":{"domain":["t=220 min","51-52 %","52-53 %","53-54 %","54-55 %","55-56 %","56-57 %"],"range":["#1a1a1a","#f7983f","#f4a8a6","#9b2380","#16ace3","#8a7424","#a6a6a6"]},"legend":null}}},
   {"data":{"name":"mk"},
    "mark":{"type":"point","shape":"triangle-up","size":330,"filled":true,"fill":"#fff","stroke":"#000","strokeWidth":2.5,"opacity":1},
    "encoding":{
     "x":{"field":"x","type":"quantitative","scale":{"domain":[140,210],"nice":false,"zero":false},"axis":{"orient":"bottom","title":null,"labels":false,"ticks":false,"values":[160,180,200],"grid":true,"gridDash":[1,3],"gridColor":"#000","gridWidth":1}},
     "y":{"field":"y","type":"quantitative","scale":{"domain":[7.5,10.5],"nice":false,"zero":false},"axis":{"orient":"left","title":null,"labels":false,"ticks":false,"values":[8,9,10],"grid":true,"gridDash":[1,3],"gridColor":"#000","gridWidth":1}}}}
  ]},
 {"width":436,"height":253,
  "view":{"stroke":"#000","strokeWidth":1},
  "title":{"text":"ice crystal number concentration [l⁻¹], IN = 10 l⁻¹","dx":-2.5,"offset":0},
  "resolve":{"scale":{"color":"independent"},"axis":{"x":"independent","y":"independent"}},
  "layer":[
   {"data":{"name":"rp"},"transform":[{"filter":"datum.c <= 3"}],
    "mark":{"type":"line","filled":true,"strokeWidth":0,"interpolate":"cardinal-closed"},
    "encoding":{
     "x":{"field":"x","type":"quantitative","scale":{"domain":[140,210],"nice":false,"zero":false},"axis":{"orient":"bottom","title":"domain [km]","values":[140,150,160,170,180,190,200,210],"ticks":false,"labelPadding":5,"titlePadding":14}},
     "y":{"field":"y","type":"quantitative","scale":{"domain":[7.5,10.5],"nice":false,"zero":false},"axis":{"orient":"left","title":"height [km]","values":[7.5,8,8.5,9,9.5,10,10.5],"format":".1f","ticks":false,"labelPadding":5,"titlePadding":15}},
     "color":{"field":"c","type":"ordinal","scale":{"domain":[0,1,2,3,4,5,6,7,8,9,10,11,12,13,14],"range":["#9bb8e2","#5d6bb4","#033d7c","#016a80","#00743a","#3d8f62","#cad46b","#fff200","#ffd400","#fbb05c","#f58332","#e14b1f","#c1161c","#9c0b10","#8c0000"]},"legend":null},
     "detail":{"field":"p"},
     "order":{"field":"i","type":"quantitative"}}},
   {"data":{"name":"rp"},"transform":[{"filter":"datum.c >= 4"}],
    "mark":{"type":"line","filled":true,"strokeWidth":0,"interpolate":"cardinal-closed"},
    "encoding":{
     "x":{"field":"x","type":"quantitative","scale":{"domain":[140,210],"nice":false,"zero":false},"axis":{"orient":"bottom","title":null,"labels":false,"values":[140,150,160,170,180,190,200,210],"tickSize":-6}},
     "y":{"field":"y","type":"quantitative","scale":{"domain":[7.5,10.5],"nice":false,"zero":false},"axis":{"orient":"left","title":null,"labels":false,"values":[7.5,8,8.5,9,9.5,10,10.5],"tickSize":-6}},
     "color":{"field":"c","type":"ordinal","scale":{"domain":[0,1,2,3,4,5,6,7,8,9,10,11,12,13,14],"range":["#9bb8e2","#5d6bb4","#033d7c","#016a80","#00743a","#3d8f62","#cad46b","#fff200","#ffd400","#fbb05c","#f58332","#e14b1f","#c1161c","#9c0b10","#8c0000"]},"legend":null},
     "detail":{"field":"p"},
     "order":{"field":"i","type":"quantitative"}}},
   {"data":{"values":[{"x":173.28,"y":8.77}]},
    "mark":{"type":"point","shape":"circle","size":28,"filled":true,"color":"#9bb8e2","opacity":1},
    "encoding":{
     "x":{"field":"x","type":"quantitative","scale":{"domain":[140,210],"nice":false,"zero":false},"axis":{"orient":"bottom","title":null,"labels":false,"values":[140,141,142,143,144,145,146,147,148,149,150,151,152,153,154,155,156,157,158,159,160,161,162,163,164,165,166,167,168,169,170,171,172,173,174,175,176,177,178,179,180,181,182,183,184,185,186,187,188,189,190,191,192,193,194,195,196,197,198,199,200,201,202,203,204,205,206,207,208,209,210],"tickSize":-3}},
     "y":{"field":"y","type":"quantitative","scale":{"domain":[7.5,10.5],"nice":false,"zero":false},"axis":{"orient":"left","title":null,"labels":false,"values":[7.5,7.6,7.7,7.8,7.9,8,8.1,8.2,8.3,8.4,8.5,8.6,8.7,8.8,8.9,9,9.1,9.2,9.3,9.4,9.5,9.6,9.7,9.8,9.9,10,10.1,10.2,10.3,10.4,10.5],"tickSize":-3}}}},
   {"data":{"name":"rl"},
    "mark":{"type":"line","color":"#000","strokeWidth":1.6,"interpolate":"catmull-rom"},
    "encoding":{
     "x":{"field":"x","type":"quantitative","scale":{"domain":[140,210],"nice":false,"zero":false},"axis":{"orient":"top","title":null,"labels":false,"values":[140,150,160,170,180,190,200,210],"tickSize":-6}},
     "y":{"field":"y","type":"quantitative","scale":{"domain":[7.5,10.5],"nice":false,"zero":false},"axis":{"orient":"right","title":null,"labels":false,"values":[7.5,8,8.5,9,9.5,10,10.5],"tickSize":-6}},
     "detail":{"field":"p"},
     "order":{"field":"i","type":"quantitative"}}},
   {"data":{"name":"rx"},
    "mark":{"type":"point","shape":"M-1,0L1,0M0,-1L0,1","filled":false,"size":225,"strokeWidth":2.5,"opacity":1},
    "encoding":{
     "x":{"field":"x","type":"quantitative","scale":{"domain":[140,210],"nice":false,"zero":false},"axis":{"orient":"top","title":null,"labels":false,"values":[140,141,142,143,144,145,146,147,148,149,150,151,152,153,154,155,156,157,158,159,160,161,162,163,164,165,166,167,168,169,170,171,172,173,174,175,176,177,178,179,180,181,182,183,184,185,186,187,188,189,190,191,192,193,194,195,196,197,198,199,200,201,202,203,204,205,206,207,208,209,210],"tickSize":-3}},
     "y":{"field":"y","type":"quantitative","scale":{"domain":[7.5,10.5],"nice":false,"zero":false},"axis":{"orient":"right","title":null,"labels":false,"values":[7.5,7.6,7.7,7.8,7.9,8,8.1,8.2,8.3,8.4,8.5,8.6,8.7,8.8,8.9,9,9.1,9.2,9.3,9.4,9.5,9.6,9.7,9.8,9.9,10,10.1,10.2,10.3,10.4,10.5],"tickSize":-3}},
     "color":{"field":"s","type":"nominal","scale":{"domain":["t=220 min","51-52 %","52-53 %","53-54 %","54-55 %","55-56 %","56-57 %"],"range":["#1a1a1a","#f7983f","#f4a8a6","#9b2380","#16ace3","#8a7424","#a6a6a6"]},"legend":null}}},
   {"data":{"name":"lg"},
    "mark":{"type":"text","align":"left","baseline":"middle","fontSize":12},
    "encoding":{
     "x":{"field":"x","type":"quantitative","scale":{"domain":[140,210],"nice":false,"zero":false},"axis":{"orient":"bottom","title":null,"labels":false,"ticks":false,"values":[160,180,200],"grid":true,"gridDash":[1,3],"gridColor":"#000","gridWidth":1}},
     "y":{"field":"y","type":"quantitative","scale":{"domain":[7.5,10.5],"nice":false,"zero":false},"axis":{"orient":"left","title":null,"labels":false,"ticks":false,"values":[8,9,10],"grid":true,"gridDash":[1,3],"gridColor":"#000","gridWidth":1}},
     "text":{"field":"s"},
     "color":{"field":"s","type":"nominal","scale":{"domain":["t=220 min","51-52 %","52-53 %","53-54 %","54-55 %","55-56 %","56-57 %"],"range":["#1a1a1a","#f7983f","#f4a8a6","#9b2380","#16ace3","#8a7424","#a6a6a6"]},"legend":null}}},
   {"data":{"name":"mk"},
    "mark":{"type":"point","shape":"triangle-up","size":330,"filled":true,"fill":"#fff","stroke":"#000","strokeWidth":2.5,"opacity":1},
    "encoding":{
     "x":{"field":"x","type":"quantitative","scale":{"domain":[140,210],"nice":false,"zero":false},"axis":null},
     "y":{"field":"y","type":"quantitative","scale":{"domain":[7.5,10.5],"nice":false,"zero":false},"axis":null}}},
   {"data":{"values":[{"t":"1","x":144.1,"y":9.35}]},"mark":{"type":"text","fontSize":15,"angle":22,"color":"#000"},
    "encoding":{"x":{"field":"x","type":"quantitative","scale":{"domain":[140,210],"nice":false,"zero":false},"axis":null},"y":{"field":"y","type":"quantitative","scale":{"domain":[7.5,10.5],"nice":false,"zero":false},"axis":null},"text":{"field":"t"}}},
   {"data":{"values":[{"t":"1","x":169.64,"y":9.82}]},"mark":{"type":"text","fontSize":15,"angle":-15,"color":"#000"},
    "encoding":{"x":{"field":"x","type":"quantitative","scale":{"domain":[140,210],"nice":false,"zero":false},"axis":null},"y":{"field":"y","type":"quantitative","scale":{"domain":[7.5,10.5],"nice":false,"zero":false},"axis":null},"text":{"field":"t"}}},
   {"data":{"values":[{"t":"10","x":149.2,"y":8.33}]},"mark":{"type":"text","fontSize":15,"angle":25,"color":"#000"},
    "encoding":{"x":{"field":"x","type":"quantitative","scale":{"domain":[140,210],"nice":false,"zero":false},"axis":null},"y":{"field":"y","type":"quantitative","scale":{"domain":[7.5,10.5],"nice":false,"zero":false},"axis":null},"text":{"field":"t"}}},
   {"data":{"values":[{"t":"10","x":180.24,"y":8.52}]},"mark":{"type":"text","fontSize":15,"angle":8,"color":"#000"},
    "encoding":{"x":{"field":"x","type":"quantitative","scale":{"domain":[140,210],"nice":false,"zero":false},"axis":null},"y":{"field":"y","type":"quantitative","scale":{"domain":[7.5,10.5],"nice":false,"zero":false},"axis":null},"text":{"field":"t"}}},
   {"data":{"values":[{"t":"1","x":158.23,"y":7.644}]},"mark":{"type":"text","fontSize":15,"angle":35,"color":"#000"},
    "encoding":{"x":{"field":"x","type":"quantitative","scale":{"domain":[140,210],"nice":false,"zero":false},"axis":null},"y":{"field":"y","type":"quantitative","scale":{"domain":[7.5,10.5],"nice":false,"zero":false},"axis":null},"text":{"field":"t"}}},
   {"data":{"values":[{"t":"1","x":206.5,"y":8.29}]},"mark":{"type":"text","fontSize":15,"angle":-12,"color":"#000"},
    "encoding":{"x":{"field":"x","type":"quantitative","scale":{"domain":[140,210],"nice":false,"zero":false},"axis":null},"y":{"field":"y","type":"quantitative","scale":{"domain":[7.5,10.5],"nice":false,"zero":false},"axis":null},"text":{"field":"t"}}}
  ]},
 {"width":433,"height":11,
  "view":{"stroke":null},
  "layer":[
   {"data":{"name":"cb"},"mark":{"type":"rect","stroke":"#000","strokeWidth":1},
    "encoding":{
     "x":{"field":"a","type":"quantitative","scale":{"domain":[0,13],"range":[-10,414]},"axis":null},
     "x2":{"field":"b"},
     "y":{"datum":0,"type":"quantitative","scale":{"domain":[0,1]},"axis":null},
     "y2":{"datum":1},
     "color":{"field":"c","type":"ordinal","scale":{"domain":[0,1,2,3,4,5,6,7,8,9,10,11,12,13,14],"range":["#9bb8e2","#5d6bb4","#033d7c","#016a80","#00743a","#3d8f62","#cad46b","#fff200","#ffd400","#fbb05c","#f58332","#e14b1f","#c1161c","#9c0b10","#8c0000"]},"legend":null}}},
   {"data":{"name":"ct"},"mark":{"type":"line","filled":true,"stroke":"#000","strokeWidth":1,"interpolate":"linear-closed"},
    "encoding":{
     "x":{"field":"x","type":"quantitative","scale":{"domain":[0,13],"range":[-10,414]},"axis":null},
     "y":{"field":"y","type":"quantitative","scale":{"domain":[0,1]},"axis":null},
     "color":{"field":"c","type":"ordinal","scale":{"domain":[0,1,2,3,4,5,6,7,8,9,10,11,12,13,14],"range":["#9bb8e2","#5d6bb4","#033d7c","#016a80","#00743a","#3d8f62","#cad46b","#fff200","#ffd400","#fbb05c","#f58332","#e14b1f","#c1161c","#9c0b10","#8c0000"]},"legend":null},
     "detail":{"field":"c"},
     "order":{"field":"i","type":"quantitative"}}},
   {"data":{"name":"cl"},"mark":{"type":"text","fontSize":13,"baseline":"middle","color":"#111"},
    "encoding":{
     "x":{"field":"x","type":"quantitative","scale":{"domain":[0,13],"range":[-10,414]},"axis":null},
     "y":{"field":"y","type":"quantitative","scale":{"domain":[0,1]},"axis":null},
     "text":{"field":"v"}}}
  ]},
 {"width":436,"height":11,
  "view":{"stroke":null},
  "layer":[
   {"data":{"name":"cb"},"mark":{"type":"rect","stroke":"#000","strokeWidth":1},
    "encoding":{
     "x":{"field":"a","type":"quantitative","scale":{"domain":[0,13],"range":[-8.5,421.5]},"axis":null},
     "x2":{"field":"b"},
     "y":{"datum":0,"type":"quantitative","scale":{"domain":[0,1]},"axis":null},
     "y2":{"datum":1},
     "color":{"field":"c","type":"ordinal","scale":{"domain":[0,1,2,3,4,5,6,7,8,9,10,11,12,13,14],"range":["#9bb8e2","#5d6bb4","#033d7c","#016a80","#00743a","#3d8f62","#cad46b","#fff200","#ffd400","#fbb05c","#f58332","#e14b1f","#c1161c","#9c0b10","#8c0000"]},"legend":null}}},
   {"data":{"name":"ct"},"mark":{"type":"line","filled":true,"stroke":"#000","strokeWidth":1,"interpolate":"linear-closed"},
    "encoding":{
     "x":{"field":"x","type":"quantitative","scale":{"domain":[0,13],"range":[-8.5,421.5]},"axis":null},
     "y":{"field":"y","type":"quantitative","scale":{"domain":[0,1]},"axis":null},
     "color":{"field":"c","type":"ordinal","scale":{"domain":[0,1,2,3,4,5,6,7,8,9,10,11,12,13,14],"range":["#9bb8e2","#5d6bb4","#033d7c","#016a80","#00743a","#3d8f62","#cad46b","#fff200","#ffd400","#fbb05c","#f58332","#e14b1f","#c1161c","#9c0b10","#8c0000"]},"legend":null},
     "detail":{"field":"c"},
     "order":{"field":"i","type":"quantitative"}}},
   {"data":{"name":"cl"},"mark":{"type":"text","fontSize":13,"baseline":"middle","color":"#111"},
    "encoding":{
     "x":{"field":"x","type":"quantitative","scale":{"domain":[0,13],"range":[-8.5,421.5]},"axis":null},
     "y":{"field":"y","type":"quantitative","scale":{"domain":[0,1]},"axis":null},
     "text":{"field":"v"}}}
  ]}
]
}
